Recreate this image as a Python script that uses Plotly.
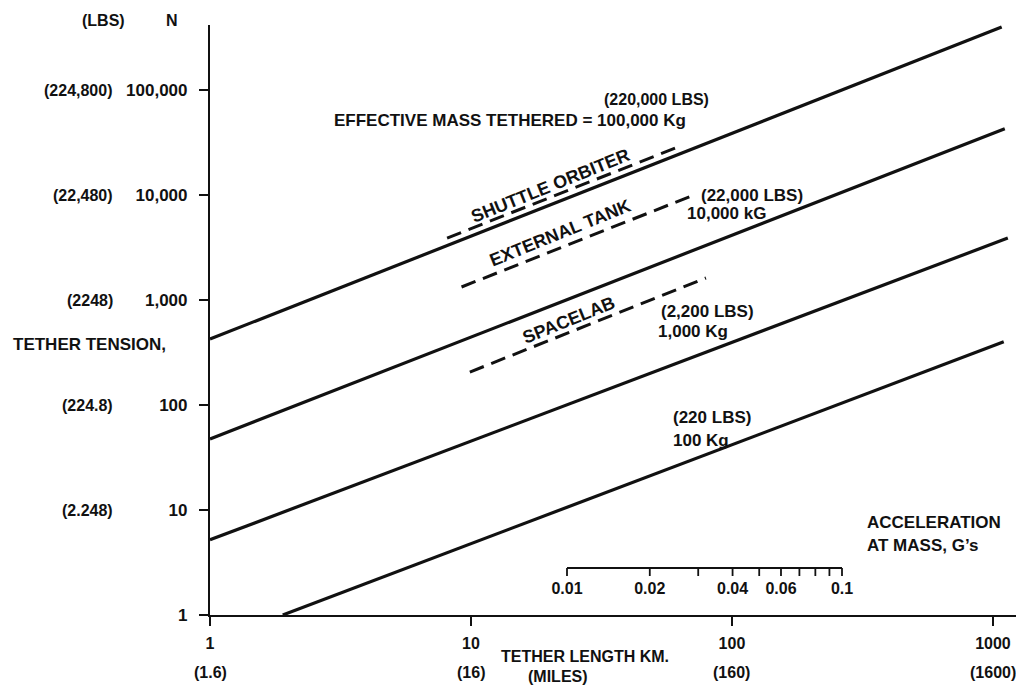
import numpy as np
import plotly.graph_objects as go

# ---------------- data ----------------
# solid lines: effective mass tethered (N vs km)
m100000_x = [1, 1080]
m100000_y = [425, 398000]
m10000_x = [1, 1110]
m10000_y = [47.5, 42700]
m1000_x = [1, 1140]
m1000_y = [5.2, 3890]
m100_x = [1.9, 1100]
m100_y = [1, 400]

# dashed lines: vehicles
shuttle_x = [8.1, 62]
shuttle_y = [3890, 28600]
tank_x = [9.2, 70]
tank_y = [1330, 9800]
spacelab_x = [9.9, 79.5]
spacelab_y = [206, 1620]

# axes ticks
x_ticks = [1, 10, 100, 1000]
x_ticktext = ["1", "10", "100", "1000"]
x_miles = ["(1.6)", "(16)", "(160)", "(1600)"]
y_ticks = [1, 10, 100, 1000, 10000, 100000]
y_ticktext = ["1", "10", "100", "1,000", "10,000", "100,000"]
lbs_ticks = [100000, 10000, 1000, 100, 10]
lbs_text = ["(224,800)", "(22,480)", "(2248)", "(224.8)", "(2.248)"]

# acceleration scale (G's)
accel_ticks = [0.01, 0.02, 0.03, 0.04, 0.05, 0.06, 0.07, 0.08, 0.09, 0.1]
accel_label_vals = [0.01, 0.02, 0.04, 0.06, 0.1]
accel_labels = ["0.01", "0.02", "0.04", "0.06", "0.1"]

# ---------------- layout helpers ----------------
# page is rendered with an 8px body margin, so the figure is sized to fit
PAGE_W, PAGE_H = 1024, 685
OFF = 8
W, H = PAGE_W - OFF, PAGE_H - OFF
PLOT_LEFT, PLOT_RIGHT, PLOT_TOP, PLOT_BOTTOM = 210, 1018, 25, 615   # page pixels
L = PLOT_LEFT - OFF
R = W - (PLOT_RIGHT - OFF)
T = PLOT_TOP - OFF
B = H - (PLOT_BOTTOM - OFF)
PW, PH = PLOT_RIGHT - PLOT_LEFT, PLOT_BOTTOM - PLOT_TOP
X_RANGE = [0, 3.096]
Y_RANGE = [0, 5.619]


def fx(px):
    return (px - PLOT_LEFT) / PW


def fy(py):
    return (PLOT_BOTTOM - py) / PH


FONT = "Liberation Sans, Arial, sans-serif"
BLACK = "#111111"

fig = go.Figure()

solid = [(m100000_x, m100000_y), (m10000_x, m10000_y), (m1000_x, m1000_y), (m100_x, m100_y)]
for xs, ys in solid:
    fig.add_trace(go.Scatter(x=xs, y=ys, mode="lines",
                             line=dict(color=BLACK, width=3.2), showlegend=False, hoverinfo="skip"))

dashed = [(shuttle_x, shuttle_y), (tank_x, tank_y), (spacelab_x, spacelab_y)]
for xs, ys in dashed:
    fig.add_trace(go.Scatter(x=xs, y=ys, mode="lines",
                             line=dict(color=BLACK, width=3, dash="15px,8px"),
                             showlegend=False, hoverinfo="skip"))

# acceleration scale on overlay axes x2 (log) / y2 (0..1 of plot height)
scale_y = fy(568)
tick_y = fy(576)
label_y = fy(582)
fig.add_trace(go.Scatter(x=[accel_ticks[0], accel_ticks[-1]], y=[scale_y, scale_y],
                         xaxis="x2", yaxis="y2", mode="lines",
                         line=dict(color=BLACK, width=2), showlegend=False, hoverinfo="skip"))
tx, ty = [], []
for a in accel_ticks:
    tx += [a, a, None]
    ty += [scale_y, tick_y, None]
fig.add_trace(go.Scatter(x=tx, y=ty, xaxis="x2", yaxis="y2", mode="lines",
                         line=dict(color=BLACK, width=1.8), showlegend=False, hoverinfo="skip"))
fig.add_trace(go.Scatter(x=accel_label_vals, y=[label_y] * len(accel_label_vals),
                         xaxis="x2", yaxis="y2", mode="text", text=accel_labels,
                         textposition="bottom center",
                         textfont=dict(family=FONT, size=16, color=BLACK, weight="bold"),
                         showlegend=False, hoverinfo="skip", cliponaxis=False))

# map 0.01 G -> px 567 and 0.1 G -> px 842
f1, f2 = fx(567), fx(842)
span = 1.0 / (f2 - f1)
r0 = -2 - f1 * span
x2_range = [r0, r0 + span]

fig.update_layout(
    width=W, height=H,
    margin=dict(l=L, r=R, t=T, b=B),
    paper_bgcolor="white", plot_bgcolor="white",
    font=dict(family=FONT, size=14, color=BLACK),
    showlegend=False,
    xaxis=dict(type="log", range=X_RANGE, showgrid=False, zeroline=False,
               showline=True, linecolor=BLACK, linewidth=2.2,
               ticks="outside", ticklen=9, tickwidth=2, tickcolor=BLACK,
               tickvals=x_ticks, ticktext=x_ticktext,
               tickfont=dict(family=FONT, size=16, color=BLACK, weight="bold"),
               ticklabelstandoff=4),
    yaxis=dict(type="log", range=Y_RANGE, showgrid=False, zeroline=False,
               showline=True, linecolor=BLACK, linewidth=2.2,
               ticks="outside", ticklen=9, tickwidth=2, tickcolor=BLACK,
               tickvals=y_ticks, ticktext=y_ticktext,
               tickfont=dict(family=FONT, size=17, color=BLACK, weight="bold"),
               ticklabelstandoff=8),
    xaxis2=dict(type="log", overlaying="x", range=x2_range, visible=False),
    yaxis2=dict(overlaying="y", range=[0, 1], visible=False),
)


def text(s, px, py, xanchor="left", size=17, angle=0):
    fig.add_annotation(text=s, x=fx(px), y=fy(py), xref="paper", yref="paper",
                       xanchor=xanchor, yanchor="middle", showarrow=False,
                       textangle=angle, borderpad=0,
                       font=dict(family=FONT, size=size, color=BLACK, weight="bold"))


# axis header labels
text("(LBS)", 103, 20, "center", size=16)
text("N", 172, 20, "center", size=16)
text("TETHER TENSION,", 12, 344, "left", size=17)

# LBS equivalent labels at N ticks
for v, s in zip(lbs_ticks, lbs_text):
    fig.add_annotation(text=s, x=fx(115), xref="paper", y=np.log10(v), yref="y",
                       xanchor="right", yanchor="middle", showarrow=False,
                       font=dict(family=FONT, size=16, color=BLACK, weight="bold"))

# miles labels under km ticks
for v, s in zip(x_ticks, x_miles):
    fig.add_annotation(text=s, x=np.log10(v), xref="x", y=fy(672), yref="paper",
                       xanchor="center", yanchor="middle", showarrow=False,
                       font=dict(family=FONT, size=16, color=BLACK, weight="bold"))

text("TETHER LENGTH KM.", 500, 656, size=16)
text("(MILES)", 527, 677, size=16)

# line labels
text("(220,000 LBS)", 603, 99, size=16)
text("EFFECTIVE MASS TETHERED = 100,000 Kg", 333, 120, size=17)
text("(22,000 LBS)", 700, 195)
text("10,000 kG", 686, 214)
text("(2,200 LBS)", 660, 311)
text("1,000 Kg", 657, 331)
text("(220 LBS)", 672, 417)
text("100 Kg", 672, 440)

text("ACCELERATION", 866, 522)
text("AT MASS, G\u2019s", 866, 545)

# vehicle labels along dashed lines
text("SHUTTLE ORBITER", 550, 186, "center", size=18, angle=-22)
text("EXTERNAL TANK", 560, 233, "center", size=18, angle=-22)
text("SPACELAB", 569, 320, "center", size=18, angle=-22)

fig.write_html("out.html")
